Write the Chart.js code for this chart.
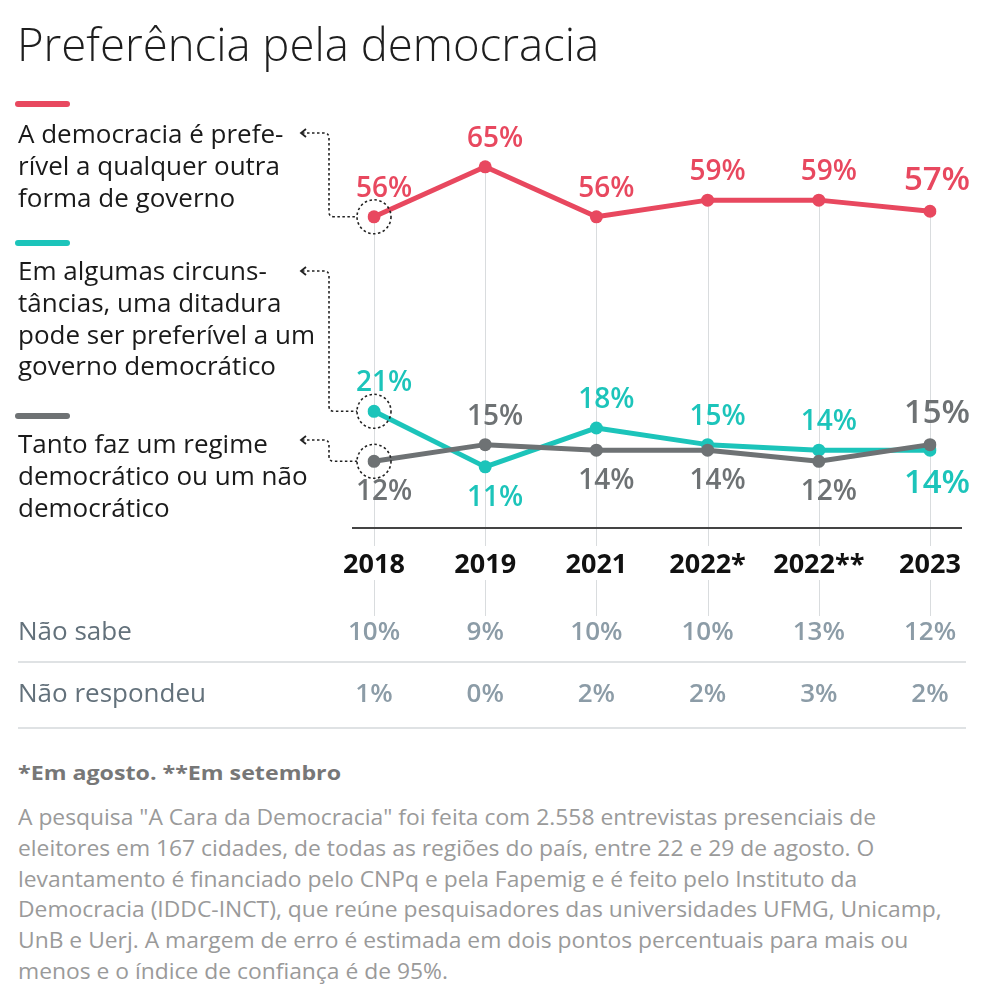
<!DOCTYPE html>
<html lang="pt-BR">
<head>
<meta charset="utf-8">
<script src="https://cdn.jsdelivr.net/npm/chart.js@4.4.1/dist/chart.umd.min.js"></script>
<style>
  html, body { margin: 0; padding: 0; background: #fff; }
  body { width: 984px; height: 996px; position: relative; overflow: hidden; font-family: "Open Sans", sans-serif; }
  #chart { position: absolute; left: 0; top: 0; }
  .title { position: absolute; left: 17px; top: 16px; font-size: 45.5px; font-weight: 300; color: #1e1e1e; line-height: 54px; white-space: nowrap; }
  .sw { position: absolute; left: 15px; width: 55px; height: 6px; border-radius: 3px; }
  .leg { position: absolute; left: 18px; font-size: 26px; line-height: 31.8px; color: #1a1a1a; white-space: nowrap; }
  .note { position: absolute; left: 18px; top: 759px; font-size: 20px; font-weight: 700; color: #777; white-space: nowrap; line-height: 28px; transform: scaleX(1.16); transform-origin: 0 0; }
  .para { position: absolute; left: 18px; top: 802px; font-size: 21px; color: #9a9a9a; line-height: 30.8px; white-space: nowrap; transform: scaleX(1.088); transform-origin: 0 0; }
</style>
</head>
<body>
<canvas id="chart" width="984" height="740"></canvas>
<div class="title">Preferência pela democracia</div>

<div class="sw" style="top:101px;background:#e8485f"></div>
<div class="leg" style="top:118px">A democracia é prefe-<br>rível a qualquer outra<br>forma de governo</div>

<div class="sw" style="top:240px;background:#1cc4ba"></div>
<div class="leg" style="top:255px">Em algumas circuns-<br>tâncias, uma ditadura<br>pode ser preferível a um<br>governo democrático</div>

<div class="sw" style="top:413px;background:#6e7274"></div>
<div class="leg" style="top:428px">Tanto faz um regime<br>democrático ou um não<br>democrático</div>

<div class="note">*Em agosto. **Em setembro</div>
<div class="para">A pesquisa "A Cara da Democracia" foi feita com 2.558 entrevistas presenciais de<br>eleitores em 167 cidades, de todas as regiões do país, entre 22 e 29 de agosto. O<br>levantamento é financiado pelo CNPq e pela Fapemig e é feito pelo Instituto da<br>Democracia (IDDC-INCT), que reúne pesquisadores das universidades UFMG, Unicamp,<br>UnB e Uerj. A margem de erro é estimada em dois pontos percentuais para mais ou<br>menos e o índice de confiança é de 95%.</div>

<script>
// ---- data ----
const categories = ['2018', '2019', '2021', '2022*', '2022**', '2023'];
const prefereDemocracia = [56, 65, 56, 59, 59, 57];
const ditaduraPreferivel = [21, 11, 18, 15, 14, 14];
const tantoFaz = [12, 15, 14, 14, 12, 15];
const naoSabe = [10, 9, 10, 10, 13, 12];
const naoRespondeu = [1, 0, 2, 2, 3, 2];
const tableRowLabels = ['Não sabe', 'Não respondeu'];

// label placement (above / below the point)
const redPos  = ['a', 'a', 'a', 'a', 'a', 'a'];
const tealPos = ['a', 'b', 'a', 'a', 'a', 'b'];
const grayPos = ['b', 'a', 'b', 'b', 'b', 'a'];

const RED = '#e8485f', TEAL = '#1cc4ba', GRAY = '#6e7274';

const decoPlugin = {
  id: 'deco',
  beforeDatasetsDraw(chart) {
    const ctx = chart.ctx, xs = chart.scales.x, ca = chart.chartArea;
    const redMeta = chart.getDatasetMeta(0);
    ctx.save();
    ctx.strokeStyle = '#d9dcde';
    ctx.lineWidth = 1;
    categories.forEach((c, i) => {
      const x = Math.round(xs.getPixelForValue(i)) + 0.5;
      const yTop = redMeta.data[i].y;
      ctx.beginPath();
      ctx.moveTo(x, yTop); ctx.lineTo(x, ca.bottom + 18);
      ctx.moveTo(x, ca.bottom + 52); ctx.lineTo(x, ca.bottom + 88);
      ctx.stroke();
    });
    // baseline
    ctx.strokeStyle = '#444';
    ctx.lineWidth = 2;
    ctx.beginPath();
    ctx.moveTo(ca.left - 22, ca.bottom); ctx.lineTo(ca.right + 32, ca.bottom);
    ctx.stroke();
    ctx.restore();
  },
  afterDatasetsDraw(chart) {
    const ctx = chart.ctx;
    ctx.save();
    // dotted circles and connectors to the legend
    const conns = [
      { ds: 0, ay: 133 },
      { ds: 1, ay: 271 },
      { ds: 2, ay: 440 }
    ];
    ctx.strokeStyle = '#222';
    ctx.lineWidth = 1.6;
    ctx.setLineDash([2.5, 2.5]);
    conns.forEach(c => {
      const p = chart.getDatasetMeta(c.ds).data[0];
      const r = 17;
      ctx.beginPath();
      ctx.arc(p.x, p.y, r, 0, Math.PI * 2);
      ctx.stroke();
      const vx = p.x - 45;
      ctx.beginPath();
      ctx.moveTo(302, c.ay);
      ctx.lineTo(vx - 5, c.ay);
      ctx.quadraticCurveTo(vx, c.ay, vx, c.ay + 5);
      ctx.lineTo(vx, p.y - 5);
      ctx.quadraticCurveTo(vx, p.y, vx + 5, p.y);
      ctx.lineTo(p.x - r, p.y);
      ctx.stroke();
    });
    ctx.setLineDash([]);
    ctx.lineWidth = 1.8;
    conns.forEach(c => {
      ctx.beginPath();
      ctx.moveTo(306, c.ay - 4);
      ctx.lineTo(301, c.ay);
      ctx.lineTo(306, c.ay + 4);
      ctx.stroke();
    });

    // data labels
    const sets = [
      { ds: 0, vals: prefereDemocracia, pos: redPos, color: RED },
      { ds: 1, vals: ditaduraPreferivel, pos: tealPos, color: TEAL },
      { ds: 2, vals: tantoFaz, pos: grayPos, color: GRAY }
    ];
    ctx.textAlign = 'center';
    ctx.textBaseline = 'middle';
    sets.forEach(s => {
      const meta = chart.getDatasetMeta(s.ds);
      s.vals.forEach((v, i) => {
        const p = meta.data[i];
        const last = i === s.vals.length - 1;
        const size = last ? 33 : 28;
        ctx.font = '600 ' + size + 'px "Open Sans", sans-serif';
        ctx.fillStyle = s.color;
        const above = s.pos[i] === 'a';
        const dy = above ? -(last ? 31 : 28) : (last ? 33 : 31);
        ctx.fillText(v + '%', p.x + (last ? 7 : 10), p.y + dy);
      });
    });
    ctx.restore();
  },
  afterDraw(chart) {
    const ctx = chart.ctx, xs = chart.scales.x, ca = chart.chartArea;
    ctx.save();
    const rows = [naoSabe, naoRespondeu];
    const rowY = [ca.bottom + 105, ca.bottom + 167];
    const sepY = [ca.bottom + 134, ca.bottom + 200];
    rows.forEach((row, r) => {
      ctx.textBaseline = 'middle';
      ctx.textAlign = 'left';
      ctx.font = '400 26px "Open Sans", sans-serif';
      ctx.fillStyle = '#63717b';
      ctx.fillText(tableRowLabels[r], 18, rowY[r]);
      ctx.textAlign = 'center';
      ctx.font = '600 26px "Open Sans", sans-serif';
      ctx.fillStyle = '#8c9ca7';
      row.forEach((v, i) => {
        ctx.fillText(v + '%', xs.getPixelForValue(i), rowY[r]);
      });
      ctx.strokeStyle = '#dfe2e4';
      ctx.lineWidth = 2;
      ctx.beginPath();
      ctx.moveTo(18, sepY[r]); ctx.lineTo(966, sepY[r]);
      ctx.stroke();
    });
    ctx.restore();
  }
};

new Chart(document.getElementById('chart'), {
  type: 'line',
  data: {
    labels: categories,
    datasets: [
      { label: 'A democracia é preferível', data: prefereDemocracia, borderColor: RED, backgroundColor: RED, order: 0 },
      { label: 'Ditadura pode ser preferível', data: ditaduraPreferivel, borderColor: TEAL, backgroundColor: TEAL, order: 2 },
      { label: 'Tanto faz', data: tantoFaz, borderColor: GRAY, backgroundColor: GRAY, order: 1 }
    ]
  },
  options: {
    responsive: false,
    animation: false,
    events: [],
    layout: { padding: { left: 374, right: 54, top: 139, bottom: 142 } },
    elements: {
      line: { borderWidth: 5, tension: 0, borderCapStyle: 'round', borderJoinStyle: 'round' },
      point: { radius: 6.5, borderWidth: 0 }
    },
    plugins: { legend: { display: false }, tooltip: { enabled: false } },
    scales: {
      x: {
        type: 'category',
        offset: false,
        grid: { display: false, drawTicks: false },
        border: { display: false },
        ticks: { color: '#111', padding: 21, font: { family: '"Open Sans", sans-serif', size: 27, weight: 700 }, maxRotation: 0, autoSkip: false },
        afterFit: (s) => { s.height = 70; }
      },
      y: { display: false, min: 0, max: 70 }
    }
  },
  plugins: [decoPlugin]
});
</script>
</body>
</html>
